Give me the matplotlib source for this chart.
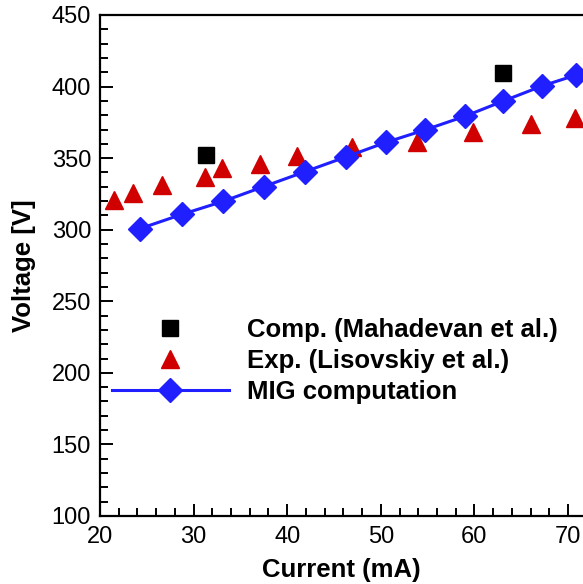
import matplotlib
matplotlib.use("Agg")
import matplotlib.pyplot as plt
from matplotlib.ticker import MultipleLocator

# Data
mig_current = [24.25, 28.74, 33.15, 37.48, 41.88, 46.25, 50.54, 54.71, 58.96, 63.01, 67.22, 70.88]
mig_voltage = [300.7, 310.7, 319.8, 330.1, 340.5, 350.8, 361.0, 369.7, 379.2, 389.7, 400.4, 408.1]

exp_current = [21.51, 23.54, 26.67, 31.2, 33.03, 37.04, 41.0, 46.9, 53.84, 59.87, 66.03, 70.75]
exp_voltage = [320.8, 325.4, 331.2, 337.0, 342.9, 345.7, 351.7, 358.0, 361.5, 368.0, 373.6, 377.8]

comp_current = [31.36, 63.0]
comp_voltage = [352.2, 409.7]

labels = ["Comp. (Mahadevan et al.)", "Exp. (Lisovskiy et al.)", "MIG computation"]

plt.rcParams['font.family'] = ['Liberation Sans', 'DejaVu Sans']

fig = plt.figure(figsize=(5.83, 5.84), dpi=100)
ax = fig.add_axes([100/583, 68/584, 483/583, 501/584])

ax.plot(comp_current, comp_voltage, linestyle='none', marker='s', markersize=11.5,
        color='black', label=labels[0])
ax.plot(exp_current, exp_voltage, linestyle='none', marker='^', markersize=12.5,
        color='#d00000', label=labels[1])
ax.plot(mig_current, mig_voltage, linestyle='-', linewidth=2.2, marker='D', markersize=12,
        color='#1f1fff', label=labels[2])

ax.set_xlim(20, 71.6)
ax.set_ylim(100, 450)
ax.xaxis.set_major_locator(MultipleLocator(10))
ax.xaxis.set_minor_locator(MultipleLocator(2))
ax.yaxis.set_major_locator(MultipleLocator(50))
ax.yaxis.set_minor_locator(MultipleLocator(10))

ax.tick_params(which='both', direction='in', top=False, right=False, width=1.4, color='black')
ax.tick_params(which='major', length=9, labelsize=17)
ax.tick_params(axis='x', which='major', pad=7)
ax.tick_params(axis='y', which='major', pad=6.5)
ax.tick_params(which='minor', length=5.5)

ax.spines['right'].set_visible(False)
for s in ['left', 'bottom', 'top']:
    ax.spines[s].set_linewidth(1.6)

ax.set_xlabel("Current (mA)", fontsize=18.5, fontweight='bold')
ax.set_ylabel("Voltage [V]", fontsize=18.5, fontweight='bold')
ax.xaxis.set_label_coords(241/483, -42/501)
ax.yaxis.set_label_coords(-64/483, 0.5)

leg = ax.legend(loc='upper left', bbox_to_anchor=(12/483, (516-318)/501), frameon=False,
                fontsize=18.5, numpoints=1, handlelength=4.55, handletextpad=0.7,
                labelspacing=0.28, borderpad=0, borderaxespad=0)
for t in leg.get_texts():
    t.set_fontweight('bold')

fig.savefig("out.png", dpi=100)
